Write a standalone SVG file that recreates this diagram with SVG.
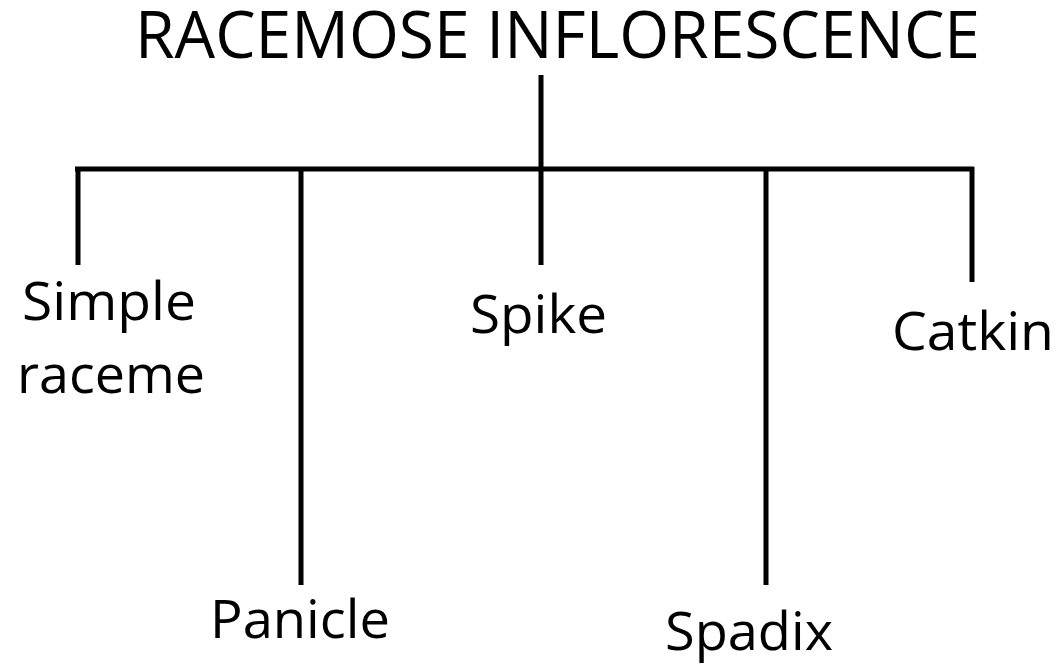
<svg xmlns="http://www.w3.org/2000/svg" width="1057" height="665" viewBox="0 0 1057 665">
<style>
.t{font-family:"Open Sans","Liberation Sans",sans-serif;fill:#000;}
.title{font-size:65px;}
.lbl{font-size:53px;}
.c{stroke:#000;stroke-width:5;fill:none;stroke-linecap:butt;}
</style>
<rect width="1057" height="665" fill="#fff"/>
<g id="root"><text class="t title" x="135" y="58" textLength="845" lengthAdjust="spacingAndGlyphs">RACEMOSE INFLORESCENCE</text></g>
<g id="connectors">
<path class="c" d="M541 75V265"/>
<path class="c" d="M75 169H974"/>
<path class="c" d="M78 167V265"/>
<path class="c" d="M301 169V585"/>
<path class="c" d="M766 169V585"/>
<path class="c" d="M972 167V282"/>
</g>
<g id="simple-raceme"><text class="t lbl" x="22" y="320" textLength="174" lengthAdjust="spacingAndGlyphs">Simple</text><text class="t lbl" x="17" y="393" textLength="188" lengthAdjust="spacingAndGlyphs">raceme</text></g>
<g id="panicle"><text class="t lbl" x="210" y="638" textLength="180" lengthAdjust="spacingAndGlyphs">Panicle</text></g>
<g id="spike"><text class="t lbl" x="470" y="333" textLength="137" lengthAdjust="spacingAndGlyphs">Spike</text></g>
<g id="spadix"><text class="t lbl" x="665" y="650" textLength="168" lengthAdjust="spacingAndGlyphs">Spadix</text></g>
<g id="catkin"><text class="t lbl" x="892" y="350" textLength="162" lengthAdjust="spacingAndGlyphs">Catkin</text></g>
</svg>
